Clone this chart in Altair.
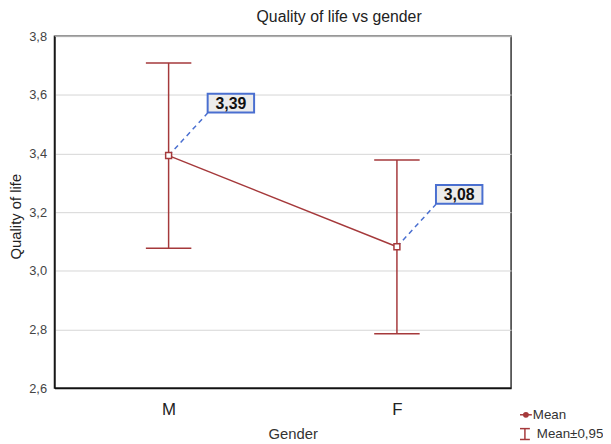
import altair as alt
import pandas as pd

genders = ["M", "F"]
xpos = [1, 2]
means = [3.393, 3.082]
uppers = [3.709, 3.378]
lowers = [3.077, 2.785]
labels = ["3,39", "3,08"]

legend_labels = ["Mean", "Mean±0,95"]

RED = "#a5393b"
BLUE = "#4a6fd0"
FONT = "Liberation Sans"

df = pd.DataFrame({"gender": genders, "x": xpos, "mean": means,
                   "upper": uppers, "lower": lowers, "label": labels})

xscale = alt.Scale(domain=[0.5, 2.5], nice=False, zero=False)
yscale = alt.Scale(domain=[2.6, 3.8], nice=False, zero=False)

xaxis = alt.Axis(values=[1, 2], labelExpr="datum.value == 1 ? 'M' : 'F'",
                 title="Gender", grid=False, ticks=False, labelPadding=14,
                 labelFontSize=17, labelColor="#222", labelFont=FONT,
                 titleFont=FONT, titleFontSize=15, titleFontWeight="normal",
                 titleColor="#333", titleX=241, titleY=46, titleBaseline="middle",
                 domainColor="#111", domainWidth=1.5)
yaxis = alt.Axis(values=[2.6, 2.8, 3.0, 3.2, 3.4, 3.6, 3.8],
                 labelExpr="replace(format(datum.value, '.1f'), '.', ',')",
                 title="Quality of life", grid=True, gridColor="#d6d6d6",
                 gridWidth=1, ticks=False, labelPadding=8, labelFontSize=13,
                 labelColor="#444", labelFont=FONT, titleFont=FONT,
                 titleFontSize=15, titleFontWeight="normal", titleColor="#222",
                 titleX=-39, titleY=182, titleBaseline="middle",
                 domainColor="#111", domainWidth=1.5)

base = alt.Chart(df)

line = base.mark_line(color=RED, strokeWidth=1.5).encode(
    x=alt.X("x:Q", scale=xscale, axis=xaxis),
    y=alt.Y("mean:Q", scale=yscale, axis=yaxis),
)

err = base.mark_rule(color=RED, strokeWidth=1.5).encode(
    x="x:Q", y="lower:Q", y2="upper:Q")

cap_top = base.mark_rule(color=RED, strokeWidth=1.5, xOffset=-23, x2Offset=23).encode(
    x="x:Q", x2="x:Q", y="upper:Q")
cap_bot = base.mark_rule(color=RED, strokeWidth=1.5, xOffset=-23, x2Offset=23).encode(
    x="x:Q", x2="x:Q", y="lower:Q")

connector = base.mark_rule(color=BLUE, strokeWidth=1.5, strokeDash=[5, 4],
                           x2Offset=39.5, y2Offset=-43).encode(
    x="x:Q", x2="x:Q", y="mean:Q", y2="mean:Q")

pts = base.mark_point(shape="square", size=36, filled=True, fill="white",
                      stroke=RED, strokeWidth=1.5, opacity=1).encode(
    x="x:Q", y="mean:Q")

box = base.mark_point(shape="M -1 -0.404 L 1 -0.404 L 1 0.404 L -1 0.404 Z",
                      size=2209, filled=True, fill="#ececec", stroke=BLUE,
                      strokeWidth=2, opacity=1, xOffset=63, yOffset=-53).encode(
    x="x:Q", y="mean:Q")

txt = base.mark_text(font=FONT, fontSize=16, fontWeight="bold", color="#111",
                     xOffset=63, yOffset=-52, baseline="middle", align="center").encode(
    x="x:Q", y="mean:Q", text="label:N")

# legend (drawn manually at the bottom right)
lg = pd.DataFrame({"lbl": legend_labels})
leg_mean_line = alt.Chart(lg.iloc[[0]]).mark_rule(color=RED, strokeWidth=1.5).encode(
    x=alt.value(471), x2=alt.value(483), y=alt.value(383))
leg_mean_pt = alt.Chart(lg.iloc[[0]]).mark_point(shape="circle", size=34, filled=True,
                                                 color=RED, opacity=1).encode(
    x=alt.value(477), y=alt.value(383))
leg_ib = alt.Chart(lg.iloc[[1]]).mark_rule(color=RED, strokeWidth=1.5).encode(
    x=alt.value(476), y=alt.value(397), y2=alt.value(408))
leg_ib_t = alt.Chart(lg.iloc[[1]]).mark_rule(color=RED, strokeWidth=1.5).encode(
    x=alt.value(471), x2=alt.value(481), y=alt.value(397))
leg_ib_b = alt.Chart(lg.iloc[[1]]).mark_rule(color=RED, strokeWidth=1.5).encode(
    x=alt.value(471), x2=alt.value(481), y=alt.value(408))
leg_t1 = alt.Chart(lg.iloc[[0]]).mark_text(font=FONT, fontSize=13.5, color="#333",
                                           align="left", baseline="middle").encode(
    x=alt.value(484), y=alt.value(383), text="lbl:N")
leg_t2 = alt.Chart(lg.iloc[[1]]).mark_text(font=FONT, fontSize=13.5, color="#333",
                                           align="left", baseline="middle").encode(
    x=alt.value(488), y=alt.value(402), text="lbl:N")

chart = alt.layer(line, err, cap_top, cap_bot, connector, pts, box, txt,
                  leg_mean_line, leg_mean_pt, leg_ib, leg_ib_t, leg_ib_b,
                  leg_t1, leg_t2).properties(
    width=462, height=356,
    title=alt.TitleParams("Quality of life vs gender", font=FONT, fontSize=16,
                          fontWeight="normal", color="#222", dx=57, offset=5),
    autosize=alt.AutoSizeParams(type="none"),
    padding={"left": 47, "top": 26, "right": 93, "bottom": 54},
).configure_view(stroke="#333", strokeWidth=1.5)

chart.save("out.html", embed_options={"renderer": "svg", "actions": False})
